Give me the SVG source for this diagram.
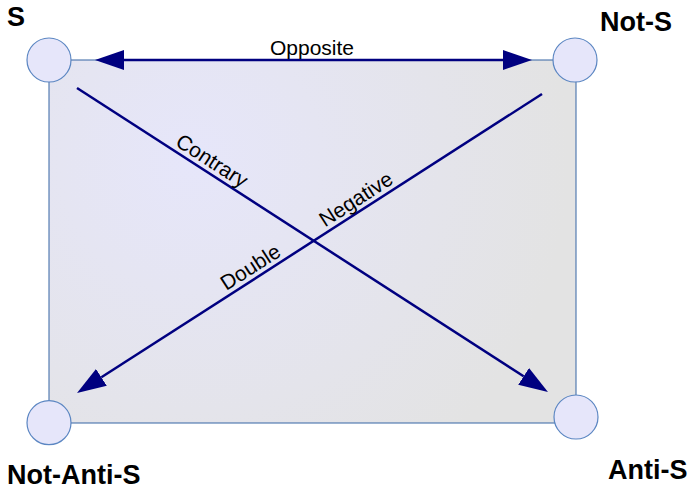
<svg xmlns="http://www.w3.org/2000/svg" width="695" height="488" viewBox="0 0 695 488">
<defs>
<radialGradient id="bg" gradientUnits="userSpaceOnUse" cx="190" cy="160" r="380">
<stop offset="0" stop-color="#e6e6fa"/>
<stop offset="1" stop-color="#e3e3e3"/>
</radialGradient>
<marker id="ah" markerUnits="userSpaceOnUse" markerWidth="30" markerHeight="22" viewBox="0 -11 30 22" refX="0" refY="0" orient="auto-start-reverse">
<path d="M0,-10 L29,0 L0,10 z" fill="#000080"/>
</marker>
<style>
.node circle{fill:#e6e6fa;stroke:#5b86c2;stroke-width:1.2}
.node text{font-family:"Liberation Sans",Arial,sans-serif;font-weight:bold;font-size:27px;fill:#000}
.conn line{stroke:#000080;stroke-width:2.5;fill:none}
.lbl{font-family:"Liberation Sans",Arial,sans-serif;font-size:21px;fill:#000;text-anchor:middle}
</style>
</defs>
<rect id="frame" x="49" y="60" width="527" height="363" fill="url(#bg)" stroke="#3465a4" stroke-width="1"/>
<g id="connectors" class="conn">
<line x1="124" y1="60" x2="503" y2="60" marker-start="url(#ah)" marker-end="url(#ah)"/>
<line x1="77" y1="88" x2="523.6" y2="376.3" marker-end="url(#ah)"/>
<line x1="542" y1="94" x2="101.4" y2="377.3" marker-end="url(#ah)"/>
<text class="lbl" x="312" y="55">Opposite</text>
<text class="lbl" transform="translate(205.5,170.9) rotate(32.8)" x="0" y="-5">Contrary</text>
<text class="lbl" transform="translate(362.5,209.4) rotate(-32.7)" x="0" y="-5">Negative</text>
<text class="lbl" transform="translate(257,277.3) rotate(-32.7)" x="0" y="-5">Double</text>
</g>
<g id="S" class="node"><circle cx="49" cy="60" r="22"/><text x="7" y="25.5">S</text></g>
<g id="Not-S" class="node"><circle cx="575" cy="60" r="22"/><text x="600" y="30.7">Not-S</text></g>
<g id="Not-Anti-S" class="node"><circle cx="49" cy="422.7" r="22"/><text x="7" y="483.5">Not-Anti-S</text></g>
<g id="Anti-S" class="node"><circle cx="576" cy="417" r="22"/><text x="608" y="479">Anti-S</text></g>
</svg>
